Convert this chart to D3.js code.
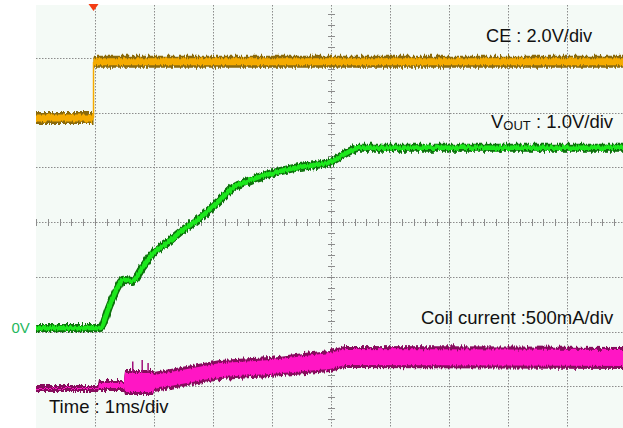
<!DOCTYPE html>
<html><head><meta charset="utf-8">
<script src="https://cdn.jsdelivr.net/npm/d3@7"></script>
<style>html,body{margin:0;padding:0;background:#fff;} svg{display:block;}</style>
</head><body><svg id="c" width="623" height="428"></svg>
<script>
// ---------------- data ----------------
// time in ms (trigger = 0), 1 ms/div
const gridTimes = [-1, 0, 1, 2, 3, 4, 5, 6, 7, 8, 9];
const gridDivs = [0, 1, 2, 3, 4, 5, 6, 7, 8];
// CE : 2.0 V/div
const ceTime = [-1, -0.025, 9];
const ceVolt = [0, 2.05, 2.05];
// VOUT : 1.0 V/div
const voutTime = [-1, 0.085, 0.25, 0.39, 0.475, 0.63, 0.81, 0.98, 1.22, 1.44, 1.73, 1.95, 2.12, 2.34, 2.63, 3.02, 3.47, 3.98, 4.2, 4.49, 9];
const voutVolt = [0, 0, 0.42, 0.75, 0.88, 0.86, 1.11, 1.37, 1.55, 1.75, 1.97, 2.17, 2.34, 2.56, 2.70, 2.83, 2.94, 3.03, 3.16, 3.29, 3.29];
// Coil current : 500 mA/div (ripple envelope, mA)
const coilTime = [-1, 0.05, 0.07, 0.49, 0.51, 0.98, 1.0, 2.12, 2.97, 3.98, 4.24, 9];
const coilHigh = [37, 37, 82, 82, 174, 174, 155, 265, 292, 356, 393, 384];
const coilLow  = [-27, -27, -18, -18, -55, -55, -27, 82, 110, 155, 192, 183];
const spikeTime = [0.64, 0.8, 0.9];
const spikePeak = [250, 265, 238];
// labels
const ceLabel = "CE : 2.0V/div";
const voutMain = "V", voutSub = "OUT", voutRest = " : 1.0V/div";
const coilLabel = "Coil current :500mA/div";
const timeLabel = "Time : 1ms/div";
const zeroLabel = "0V";

// channel setup: ground offset (divisions from bottom) and units per division
const ceOffset = 5.9, cePerDiv = 2.0;
const voutOffset = 2.064, voutPerDiv = 1.0;
const coilOffset = 0.95, coilPerDiv = 500;

// ---------------- layout ----------------
const svg = d3.select("#c");
const W = 623, H = 428;
const x = d3.scaleLinear().domain([-1, 9]).range([36, 626]);
const yDiv = d3.scaleLinear().domain([0, 8]).range([441, 3]);
const yCE = v => yDiv(ceOffset + v / cePerDiv);
const yV = v => yDiv(voutOffset + v / voutPerDiv);
const yI = v => yDiv(coilOffset + v / coilPerDiv);

svg.append("rect").attr("width", W).attr("height", H).attr("fill", "#fff");
const defs = svg.append("defs");
defs.append("clipPath").attr("id", "clip").append("rect")
  .attr("x", 36).attr("y", 5).attr("width", W - 36).attr("height", H - 5);
// scope-like trace roughness (vertical-only jitter)
function addNoise(id, seed, scale, fx) {
  const f = defs.append("filter").attr("id", id).attr("filterUnits", "userSpaceOnUse")
    .attr("x", 0).attr("y", 0).attr("width", W).attr("height", H);
  f.append("feTurbulence").attr("type", "fractalNoise").attr("baseFrequency", fx + " 0.03")
    .attr("numOctaves", 2).attr("seed", seed).attr("result", "t");
  f.append("feColorMatrix").attr("in", "t").attr("type", "matrix")
    .attr("values", "0 0 0 0 0.5  0 1 0 0 0  0 0 0 0 0  0 0 0 0 1").attr("result", "m");
  f.append("feDisplacementMap").attr("in", "SourceGraphic").attr("in2", "m")
    .attr("scale", scale).attr("xChannelSelector", "R").attr("yChannelSelector", "G");
}
addNoise("n1", 3, 7, 0.6);
addNoise("n2", 11, 5, 0.8);

const plot = svg.append("g").attr("clip-path", "url(#clip)");
plot.append("rect").attr("x", 36).attr("y", 5).attr("width", W - 36).attr("height", H - 5).attr("fill", "#f4faf6");

// grid
const gridC = "#8c8c8c";
plot.selectAll(".vg").data(gridTimes.filter(t => t > -1)).join("line")
  .attr("x1", d => Math.round(x(d)) + 0.5).attr("x2", d => Math.round(x(d)) + 0.5)
  .attr("y1", 5).attr("y2", H)
  .attr("stroke", gridC).attr("stroke-width", 1).attr("stroke-dasharray", "1.5,1.5");
plot.selectAll(".hg").data(gridDivs).join("line")
  .attr("y1", d => Math.round(yDiv(d)) + 0.5).attr("y2", d => Math.round(yDiv(d)) + 0.5)
  .attr("x1", 36).attr("x2", W)
  .attr("stroke", gridC).attr("stroke-width", 1).attr("stroke-dasharray", "1.5,1.5");
// minor ticks on center axes
const cx = Math.round(x(4)) + 0.5, cy = Math.round(yDiv(4)) + 0.5;
plot.selectAll(".tx").data(d3.range(-1, 9.01, 0.2)).join("line")
  .attr("x1", d => Math.round(x(d)) + 0.5).attr("x2", d => Math.round(x(d)) + 0.5)
  .attr("y1", cy - 3.5).attr("y2", cy + 3.5).attr("stroke", gridC).attr("stroke-width", 1);
plot.selectAll(".ty").data(d3.range(0, 8.01, 0.2)).join("line")
  .attr("y1", d => Math.round(yDiv(d)) + 0.5).attr("y2", d => Math.round(yDiv(d)) + 0.5)
  .attr("x1", cx - 3.5).attr("x2", cx + 3.5).attr("stroke", gridC).attr("stroke-width", 1);

// CE trace (band)
const ceData = ceTime.map((t, i) => ({ t, v: ceVolt[i] }));
const ceArea = inset => d3.area().curve(d3.curveStepAfter)
  .x(d => x(d.t)).y0(d => yCE(d.v) + 6.5 - inset).y1(d => yCE(d.v) - 6.5 + inset);
plot.append("path").datum(ceData).attr("d", ceArea(0.5)).attr("fill", "#8a6a0c").attr("filter", "url(#n1)");
plot.append("path").datum(ceData).attr("d", ceArea(3)).attr("fill", "#f5ab00").attr("filter", "url(#n2)");
plot.append("line").attr("x1", x(ceTime[1])).attr("x2", x(ceTime[1]))
  .attr("y1", yCE(ceVolt[0])).attr("y2", yCE(ceVolt[1])).attr("stroke", "#f5ab00").attr("stroke-width", 1.5);

// Coil current trace (ripple band)
const coilData = coilTime.map((t, i) => ({ t, hi: coilHigh[i], lo: coilLow[i] }));
const coilArea = inset => d3.area().x(d => x(d.t)).y0(d => yI(d.lo) - inset).y1(d => yI(d.hi) + inset);
plot.append("path").datum(coilData).attr("d", coilArea(0)).attr("fill", "#85085c").attr("filter", "url(#n1)");
plot.append("path").datum(coilData).attr("d", coilArea(3)).attr("fill", "#ff12c4").attr("filter", "url(#n2)");
plot.selectAll(".sp").data(spikeTime.map((t, i) => ({ t, p: spikePeak[i] }))).join("line")
  .attr("x1", d => x(d.t)).attr("x2", d => x(d.t))
  .attr("y1", d => yI(d.p)).attr("y2", d => yI(150))
  .attr("stroke", "#a0107a").attr("stroke-width", 1.5);

// VOUT trace
const vData = voutTime.map((t, i) => ({ t, v: voutVolt[i] }));
const vLine = d3.line().curve(d3.curveMonotoneX).x(d => x(d.t)).y(d => yV(d.v));
plot.append("path").datum(vData).attr("d", vLine).attr("fill", "none").attr("filter", "url(#n1)")
  .attr("stroke", "#087008").attr("stroke-width", 8).attr("stroke-linejoin", "round");
plot.append("path").datum(vData).attr("d", vLine).attr("fill", "none").attr("filter", "url(#n2)")
  .attr("stroke", "#1ee81e").attr("stroke-width", 4.5).attr("stroke-linejoin", "round");

// trigger marker
const tx0 = x(ceTime[1]);
svg.append("path").attr("d", `M${tx0 - 5},4 L${tx0 + 5},4 L${tx0},11 Z`).attr("fill", "#f43c14");

// texts
const font = "'Liberation Sans', Arial, sans-serif";
const txt = (s, xx, yy, size, fill) => svg.append("text").attr("x", xx).attr("y", yy)
  .attr("font-family", font).attr("font-size", size).attr("fill", fill || "#111").text(s);
txt(ceLabel, 486, 42, 18.2);
const vt = svg.append("text").attr("x", 491).attr("y", 127.5).attr("font-family", font).attr("font-size", 18.5).attr("fill", "#111");
vt.append("tspan").text(voutMain);
vt.append("tspan").attr("font-size", 13).attr("dy", 2).text(voutSub);
vt.append("tspan").attr("dy", -2).text(voutRest);
txt(coilLabel, 421, 324, 18.5);
txt(timeLabel, 49, 412.5, 18.5);
txt(zeroLabel, 11.5, 333.3, 15, "#1fb85e");
</script></body></html>
